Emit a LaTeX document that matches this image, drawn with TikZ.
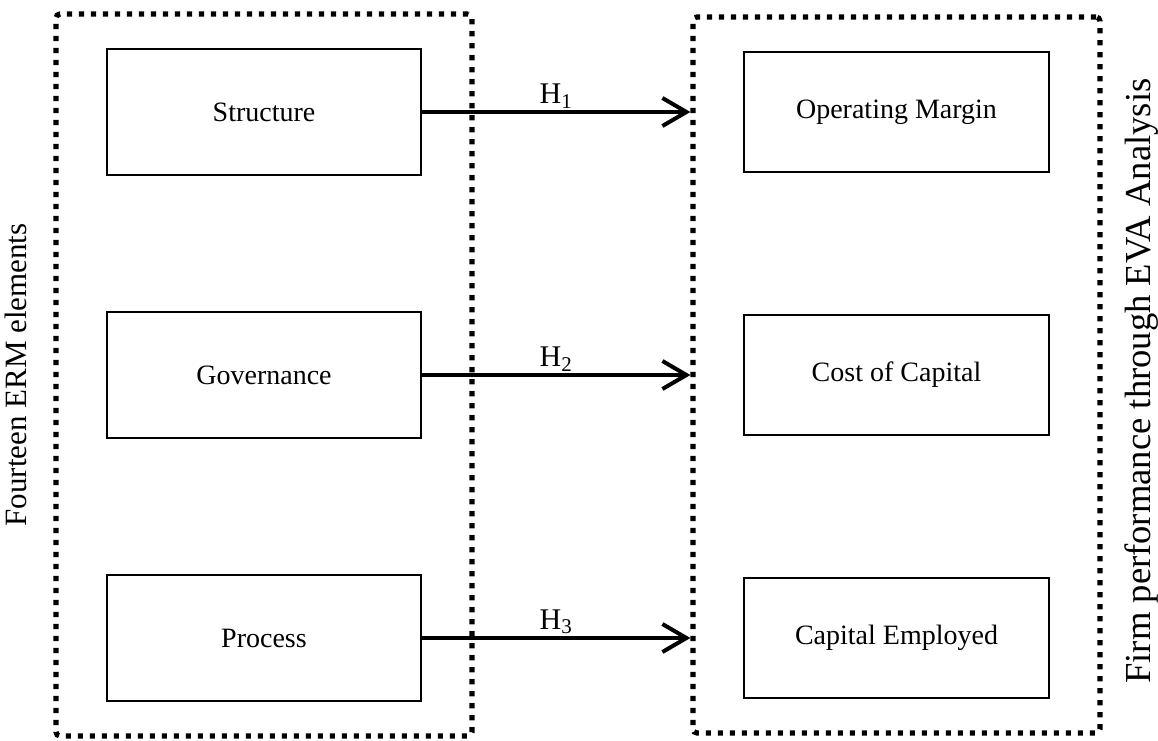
\documentclass[tikz,border=0pt]{standalone}
\usepackage{fontspec}
\setmainfont{Liberation Serif}
\usetikzlibrary{arrows.meta, positioning, fit}

\begin{document}
\begin{tikzpicture}[
		x=0.5pt, y=-0.5pt, % one unit = one pixel of the sketch
		node distance=67.5pt and 160.5pt,
		factor/.style={rectangle, draw=black, line width=1pt, minimum width=157pt, minimum height=63pt, align=center, font=\fontsize{14}{17}\selectfont},
		outcome/.style={rectangle, draw=black, line width=1pt, minimum width=152.5pt, minimum height=60pt, align=center, font=\fontsize{14}{17}\selectfont},
		dotframe/.style={rectangle, draw=black, line width=2.6pt, dash pattern=on 2.6pt off 3.4pt, rounded corners=2pt, inner xsep=25pt, inner ysep=17pt},
		arrow/.style={-{Straight Barb[length=12pt, width=14pt]}, line width=2pt},
		hyp/.style={midway, above, inner sep=1pt, font=\fontsize{15}{18}\selectfont}
		]
		\useasboundingbox (0,0) rectangle (1158,740);
		
		% ERM elements
		\node[factor] (structure) at (264,112) {Structure};
		\node[factor, below=of structure] (governance) {Governance};
		\node[factor, below=of governance] (process) {Process};
		
		% Firm performance
		\node[outcome, right=of structure] (margin) {Operating Margin};
		\node[outcome, right=of governance] (cost) {Cost of Capital};
		\node[outcome, right=of process] (employed) {Capital Employed};
		
		% Dotted frames
		\node[dotframe, fit=(structure)(process)] (lframe) {};
		\node[dotframe, fit=(margin)(employed)] (rframe) {};
		
		% Side labels
		\node[rotate=90, font=\fontsize{15.5}{18}\selectfont] (ermlabel) at ([xshift=-19pt]lframe.west) {Fourteen ERM elements};
		\node[rotate=90, font=\fontsize{18.3}{22}\selectfont] (evalabel) at ([xshift=19.5pt, yshift=-3pt]rframe.east) {Firm performance through EVA Analysis};
		
		% Hypotheses
		\draw[arrow] (structure.east) -- (structure.east -| rframe.west) node[hyp] {H\textsubscript{1}};
		\draw[arrow] (governance.east) -- (governance.east -| rframe.west) node[hyp] {H\textsubscript{2}};
		\draw[arrow] (process.east) -- (process.east -| rframe.west) node[hyp] {H\textsubscript{3}};
		
	\end{tikzpicture}
\end{document}
